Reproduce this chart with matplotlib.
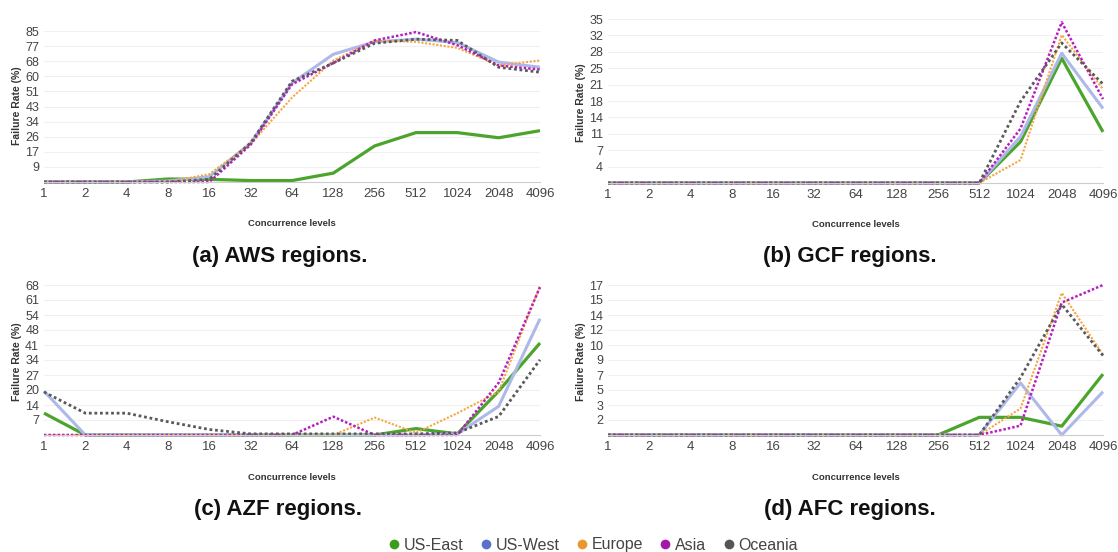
import matplotlib
matplotlib.use("Agg")
import matplotlib.pyplot as plt
from matplotlib.lines import Line2D
import math

plt.rcParams['font.family'] = ['Liberation Sans', 'DejaVu Sans']

levels = ["1", "2", "4", "8", "16", "32", "64", "128", "256", "512", "1024", "2048", "4096"]
regions = ["US-East", "US-West", "Europe", "Asia", "Oceania"]

# (a) AWS
aws_us_east = [0, 0, 0, 1.7, 1.5, 0.8, 0.8, 5, 20.3, 27.8, 27.8, 24.9, 28.9]
aws_us_west = [0, 0, 0, 0.5, 3, 21.9, 55.7, 71.9, 78.9, 80.4, 78.5, 67.5, 64.6]
aws_europe = [0, 0, 0, 0, 4.4, 21.5, 47.5, 68.4, 79.5, 78.9, 75.5, 65.6, 68.4]
aws_asia = [0, 0, 0, 0, 0, 21, 55, 67, 79.7, 84.4, 77, 65.6, 63.3]
aws_oceania = [0, 0, 0, 0, 1.5, 22, 56.7, 67, 78.1, 80.4, 79.7, 64.6, 61.8]

# (b) GCF
gcf_us_east = [0, 0, 0, 0, 0, 0, 0, 0, 0, 0, 8.8, 26.6, 10.9]
gcf_us_west = [0, 0, 0, 0, 0, 0, 0, 0, 0, 0, 9.9, 27.7, 15.9]
gcf_europe = [0, 0, 0, 0, 0, 0, 0, 0, 0, 0, 4.9, 31.6, 20.0]
gcf_asia = [0, 0, 0, 0, 0, 0, 0, 0, 0, 0, 11.6, 34.3, 17.9]
gcf_oceania = [0, 0, 0, 0, 0, 0, 0, 0, 0, 0, 17.4, 29.9, 21.1]

# (c) AZF
azf_us_east = [9.9, 0, 0, 0, 0, 0, 0, 0, 0, 2.9, 0.5, 19.9, 41.7]
azf_us_west = [19.9, 0, 0, 0, 0, 0, 0, 0, 0, 0, 0.5, 13.0, 52.7]
azf_europe = [0, 0, 0, 0, 0, 0, 0, 0, 7.9, 1.0, 9.9, 19.6, 67.7]
azf_asia = [0, 0, 0, 0, 0, 0, 0, 8.3, 0, 0, 0, 23.7, 67.0]
azf_oceania = [19.5, 9.9, 9.9, 6.0, 2.5, 0.5, 0.5, 0.5, 0.5, 0.5, 1.0, 8.4, 34.1]

# (d) AFC
afc_us_east = [0, 0, 0, 0, 0, 0, 0, 0, 0, 2.0, 2.0, 1.0, 6.9]
afc_us_west = [0, 0, 0, 0, 0, 0, 0, 0, 0, 0, 5.9, 0, 4.9]
afc_europe = [0, 0, 0, 0, 0, 0, 0, 0, 0, 0, 3.0, 16.1, 9.1]
afc_asia = [0, 0, 0, 0, 0, 0, 0, 0, 0, 0, 1.06, 15.0, 17.0]
afc_oceania = [0, 0, 0, 0, 0, 0, 0, 0, 0, 0, 6.5, 14.8, 9.0]

panels = [
    ("(a) AWS regions.", 85, [aws_us_east, aws_us_west, aws_europe, aws_asia, aws_oceania]),
    ("(b) GCF regions.", 35, [gcf_us_east, gcf_us_west, gcf_europe, gcf_asia, gcf_oceania]),
    ("(c) AZF regions.", 68, [azf_us_east, azf_us_west, azf_europe, azf_asia, azf_oceania]),
    ("(d) AFC regions.", 17, [afc_us_east, afc_us_west, afc_europe, afc_asia, afc_oceania]),
]

legend_colors = ["#3c9c1e", "#5a70cc", "#e8982c", "#a21aa8", "#555555"]
styles = [
    dict(color="#4ba52c", lw=2.3, ls="-"),
    dict(color="#adb9e8", lw=2.2, ls="-"),
    dict(color="#f5a640", lw=1.5, ls=(0, (1, 0.8))),
    dict(color="#b51fbf", lw=1.8, ls=(0, (1, 0.8))),
    dict(color="#5a5a5a", lw=2.0, ls=(0, (1, 1.0))),
]

W, H = 1118, 552
fig = plt.figure(figsize=(W / 100, H / 100), dpi=100)

# pixel boxes: left, right, top, bottom
boxes = [(44, 540, 31, 182), (608, 1103, 19, 183), (44, 540, 285, 435), (608, 1103, 285, 435)]
xlabel_y = [224, 225, 477, 477]
ylabel_cy = [106, 103, 362, 362]
title_pos = [(280, 256), (850, 256), (278, 509), (850, 509)]

def rnd(v):
    return str(int(math.floor(v + 0.5)))

for i, (title, ymax, series) in enumerate(panels):
    l, r, t, b = boxes[i]
    ax = fig.add_axes([l / W, 1 - b / H, (r - l) / W, (b - t) / H])
    x = list(range(len(levels)))
    for s, st in zip(series, styles):
        ax.plot(x, s, solid_capstyle="butt", dash_capstyle="butt", clip_on=False, **st)
    ax.set_xlim(0, len(levels) - 1)
    ax.set_ylim(0, ymax)
    ticks = [ymax * k / 10 for k in range(1, 11)]
    ax.set_yticks(ticks)
    ax.set_yticklabels([rnd(v) for v in ticks])
    ax.set_xticks(x)
    ax.set_xticklabels(levels)
    ax.grid(axis="y", color="#f0f0f0", lw=0.8)
    ax.set_axisbelow(True)
    for sp in ["top", "right", "left"]:
        ax.spines[sp].set_visible(False)
    ax.spines["bottom"].set_color("#cccccc")
    ax.spines["bottom"].set_linewidth(0.8)
    ax.tick_params(axis="x", length=0, labelsize=9.5, colors="#444444", pad=4)
    ax.tick_params(axis="y", length=0, labelsize=9, colors="#444444", pad=3.5)
    fig.text((l - 27) / W, 1 - ylabel_cy[i] / H, "Failure Rate (%)", fontsize=7.5,
             fontweight="bold", color="#333333", rotation=90, ha="center", va="center")
    fig.text(((l + r) / 2) / W, 1 - xlabel_y[i] / H, "Concurrence levels", fontsize=6.8,
             fontweight="bold", color="#333333", ha="center", va="center")
    tx, ty = title_pos[i]
    fig.text(tx / W, 1 - ty / H, title, fontsize=16, fontweight="bold", color="#111111",
             ha="center", va="center")

handles = [Line2D([], [], ls="none", marker="o", markersize=7, color=c, markeredgewidth=0)
           for c in legend_colors]
fig.legend(handles, regions, loc="center", bbox_to_anchor=(592 / W, 1 - 545 / H), ncol=5,
           frameon=False, fontsize=11.5, handletextpad=0.1, columnspacing=0.9,
           handlelength=1.0, labelcolor="#444444")

fig.savefig("out.png", dpi=100)
